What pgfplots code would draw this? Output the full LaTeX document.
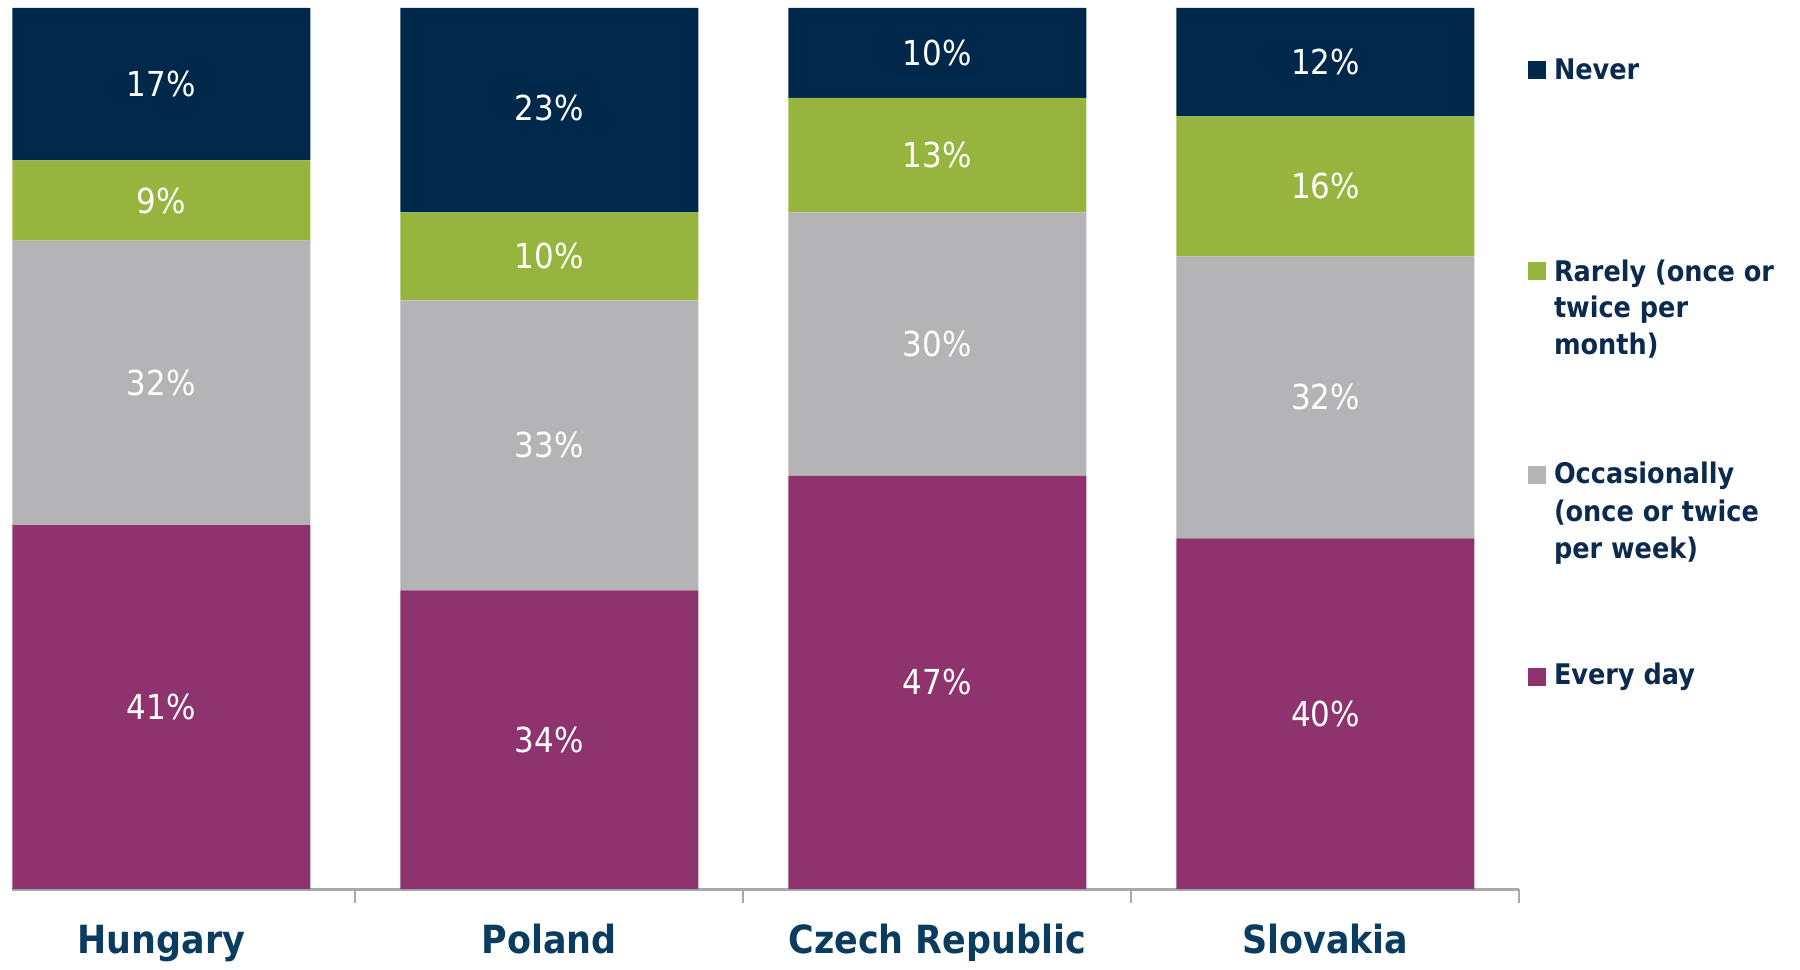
\documentclass[border=0pt]{standalone}
\usepackage{pgfplots}
\pgfplotsset{compat=1.18}
\usepackage{pgfplotstable}
\usepackage{fontspec}
\setmainfont{DejaVuSansCondensed}[Extension=.ttf, BoldFont=DejaVuSansCondensed-Bold]
\definecolor{cnavy}{RGB}{0,40,74}
\definecolor{cgreen}{RGB}{151,181,62}
\definecolor{cgray}{RGB}{180,180,182}
\definecolor{cpurple}{RGB}{142,51,110}
\definecolor{axisgray}{RGB}{166,169,176}
\definecolor{labelblue}{RGB}{10,60,95}
\definecolor{legtext}{RGB}{12,42,78}

\pgfplotstableread{
x everyday occasionally rarely never
0 41.3 32.3 9.1 17.3
1 33.9 32.9 10.0 23.2
2 46.9 29.9 13.0 10.2
3 39.8 32.0 15.9 12.3
}\datatable

\pgfplotstableread{
x y label
0 20.65 41
0 57.45 32
0 78.15 9
0 91.35 17
1 16.95 34
1 50.35 33
1 71.8 10
1 88.6 23
2 23.45 47
2 61.85 30
2 83.3 13
2 94.9 10
3 19.9 40
3 55.8 32
3 79.75 16
3 93.85 12
}\labeltable

\begin{document}
\begin{tikzpicture}
\begin{axis}[at={(0,0)}, anchor=south west, scale only axis,
  width=376.75pt, height=220.25pt,
  ybar stacked, bar width=74.5pt,
  xmin=-0.384, xmax=3.5, ymin=0, ymax=100,
  axis x line*=bottom, axis y line=none, ytick=\empty,
  x axis line style={-, draw=axisgray, line width=0.75pt},
  xtick={0,1,2,3}, xticklabels={Hungary,Poland,Czech Republic,Slovakia},
  minor xtick={0.5,1.5,2.5,3.5},
  major tick length=0pt, minor tick length=3.5pt, tick align=outside,
  tick style={draw=axisgray, line width=0.5pt},
  xticklabel style={anchor=base, yshift=-16pt, font=\bfseries\fontsize{9.7}{11}\selectfont, text=labelblue},
  clip=false]
\addplot[fill=cpurple, draw=none] table[x=x, y=everyday] {\datatable};
\addplot[fill=cgray, draw=none] table[x=x, y=occasionally] {\datatable};
\addplot[fill=cgreen, draw=none] table[x=x, y=rarely] {\datatable};
\addplot[fill=cnavy, draw=none] table[x=x, y=never] {\datatable};
\end{axis}
\begin{axis}[at={(0,0)}, anchor=south west, scale only axis,
  width=376.75pt, height=220.25pt,
  xmin=-0.384, xmax=3.5, ymin=0, ymax=100, hide axis, clip=false]
\addplot[draw=none, mark=none, nodes near coords={\pgfplotspointmeta\%},
  point meta=explicit symbolic,
  nodes near coords style={anchor=center, text=white, font=\fontsize{8.6}{10}\selectfont}]
  table[x=x, y=y, meta=label] {\labeltable};
\end{axis}
% legend
\fill[cnavy] (381.05pt,204.75pt) +(-2.25pt,-2.25pt) rectangle +(2.25pt,2.25pt);
\fill[cgreen] (381.05pt,154.4pt) +(-2.25pt,-2.25pt) rectangle +(2.25pt,2.25pt);
\fill[cgray] (381.05pt,103.6pt) +(-2.25pt,-2.25pt) rectangle +(2.25pt,2.25pt);
\fill[cpurple] (381.05pt,53.1pt) +(-2.25pt,-2.25pt) rectangle +(2.25pt,2.25pt);
\begin{scope}[every node/.style={anchor=base west, inner sep=0pt, text=legtext, font=\bfseries\fontsize{7.1}{8}\selectfont}]
\node at (385.2pt,202.25pt) {Never};
\node at (385.2pt,151.75pt) {Rarely (once or};
\node at (385.2pt,142.75pt) {twice per};
\node at (385.2pt,133.5pt) {month)};
\node at (385.2pt,101.5pt) {Occasionally};
\node at (385.2pt,92pt) {(once or twice};
\node at (385.2pt,82.75pt) {per week)};
\node at (385.2pt,51.25pt) {Every day};
\end{scope}
\pgfresetboundingbox
\path[use as bounding box] (-3.075pt,-20pt) rectangle (446.9pt,222.25pt);
\end{tikzpicture}
\end{document}
